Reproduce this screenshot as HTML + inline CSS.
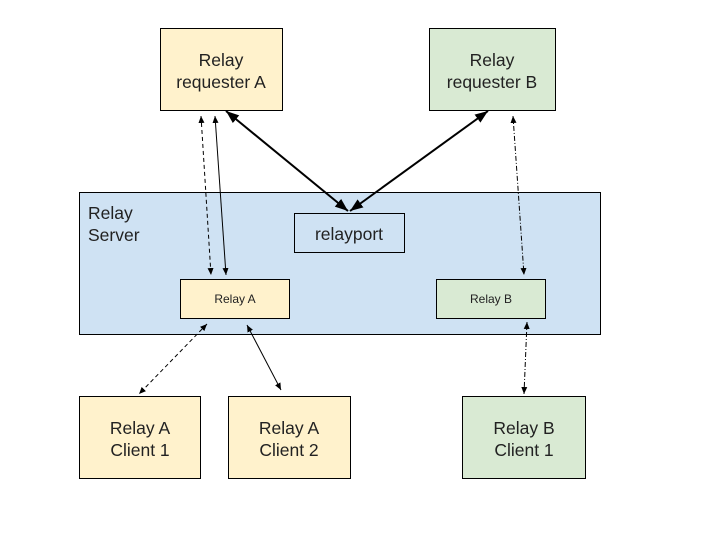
<!DOCTYPE html>
<html><head><style>
body{margin:0;width:720px;height:540px;background:#fff;overflow:hidden}
</style></head><body>
<svg width="720" height="540" xmlns="http://www.w3.org/2000/svg" font-family="Liberation Sans, Arial, sans-serif">
<defs>
<marker id="a" markerWidth="8" markerHeight="8" refX="7" refY="4" orient="auto-start-reverse" markerUnits="userSpaceOnUse"><path d="M0,1 L7,4 L0,7 z" fill="#000"/></marker>
<marker id="b" markerWidth="14" markerHeight="14" refX="13" refY="7" orient="auto-start-reverse" markerUnits="userSpaceOnUse"><path d="M0,2 L13,7 L0,12 z" fill="#000"/></marker>
</defs>
<rect x="79.5" y="192.5" width="521" height="142" fill="#cfe2f3" stroke="#000"/>
<text x="88" y="219" font-size="17.5" fill="#222">Relay</text>
<text x="88" y="241" font-size="17.5" fill="#222">Server</text>
<rect x="160.5" y="28.5" width="122" height="82" fill="#fff2cc" stroke="#000"/>
<text x="221" y="66" font-size="17.5" text-anchor="middle" fill="#222">Relay</text>
<text x="221" y="88" font-size="17.5" text-anchor="middle" fill="#222">requester A</text>
<rect x="429.5" y="28.5" width="126" height="82" fill="#d9ead3" stroke="#000"/>
<text x="492" y="66" font-size="17.5" text-anchor="middle" fill="#222">Relay</text>
<text x="492" y="88" font-size="17.5" text-anchor="middle" fill="#222">requester B</text>
<rect x="294.5" y="213.5" width="110" height="39" fill="#cfe2f3" stroke="#000"/>
<text x="349" y="240" font-size="17.5" text-anchor="middle" fill="#222">relayport</text>
<rect x="180.5" y="279.5" width="109" height="39" fill="#fff2cc" stroke="#000"/>
<text x="235" y="303" font-size="12" text-anchor="middle" fill="#222">Relay A</text>
<rect x="436.5" y="279.5" width="109" height="39" fill="#d9ead3" stroke="#000"/>
<text x="491" y="303" font-size="12" text-anchor="middle" fill="#222">Relay B</text>
<rect x="79.5" y="396.5" width="121" height="82" fill="#fff2cc" stroke="#000"/>
<text x="140" y="434" font-size="17.5" text-anchor="middle" fill="#222">Relay A</text>
<text x="140" y="456" font-size="17.5" text-anchor="middle" fill="#222">Client 1</text>
<rect x="228.5" y="396.5" width="122" height="82" fill="#fff2cc" stroke="#000"/>
<text x="289" y="434" font-size="17.5" text-anchor="middle" fill="#222">Relay A</text>
<text x="289" y="456" font-size="17.5" text-anchor="middle" fill="#222">Client 2</text>
<rect x="462.5" y="396.5" width="123" height="82" fill="#d9ead3" stroke="#000"/>
<text x="524" y="434" font-size="17.5" text-anchor="middle" fill="#222">Relay B</text>
<text x="524" y="456" font-size="17.5" text-anchor="middle" fill="#222">Client 1</text>
<g stroke="#000" fill="none">
<line x1="201" y1="116" x2="211" y2="275" stroke-dasharray="4,3" marker-start="url(#a)" marker-end="url(#a)"/>
<line x1="215" y1="116" x2="226" y2="275" marker-start="url(#a)" marker-end="url(#a)"/>
<line x1="226" y1="111" x2="348" y2="211" stroke-width="2" marker-start="url(#b)" marker-end="url(#b)"/>
<line x1="488" y1="111" x2="350" y2="211" stroke-width="2" marker-start="url(#b)" marker-end="url(#b)"/>
<line x1="513" y1="116" x2="524" y2="275" stroke-dasharray="5,2,1,2" marker-start="url(#a)" marker-end="url(#a)"/>
<line x1="207" y1="324" x2="139" y2="394" stroke-dasharray="4,3" marker-start="url(#a)" marker-end="url(#a)"/>
<line x1="247" y1="325" x2="281" y2="390" marker-start="url(#a)" marker-end="url(#a)"/>
<line x1="527" y1="322" x2="524" y2="394" stroke-dasharray="5,2,1,2" marker-start="url(#a)" marker-end="url(#a)"/>
</g>
</svg>
</body></html>
